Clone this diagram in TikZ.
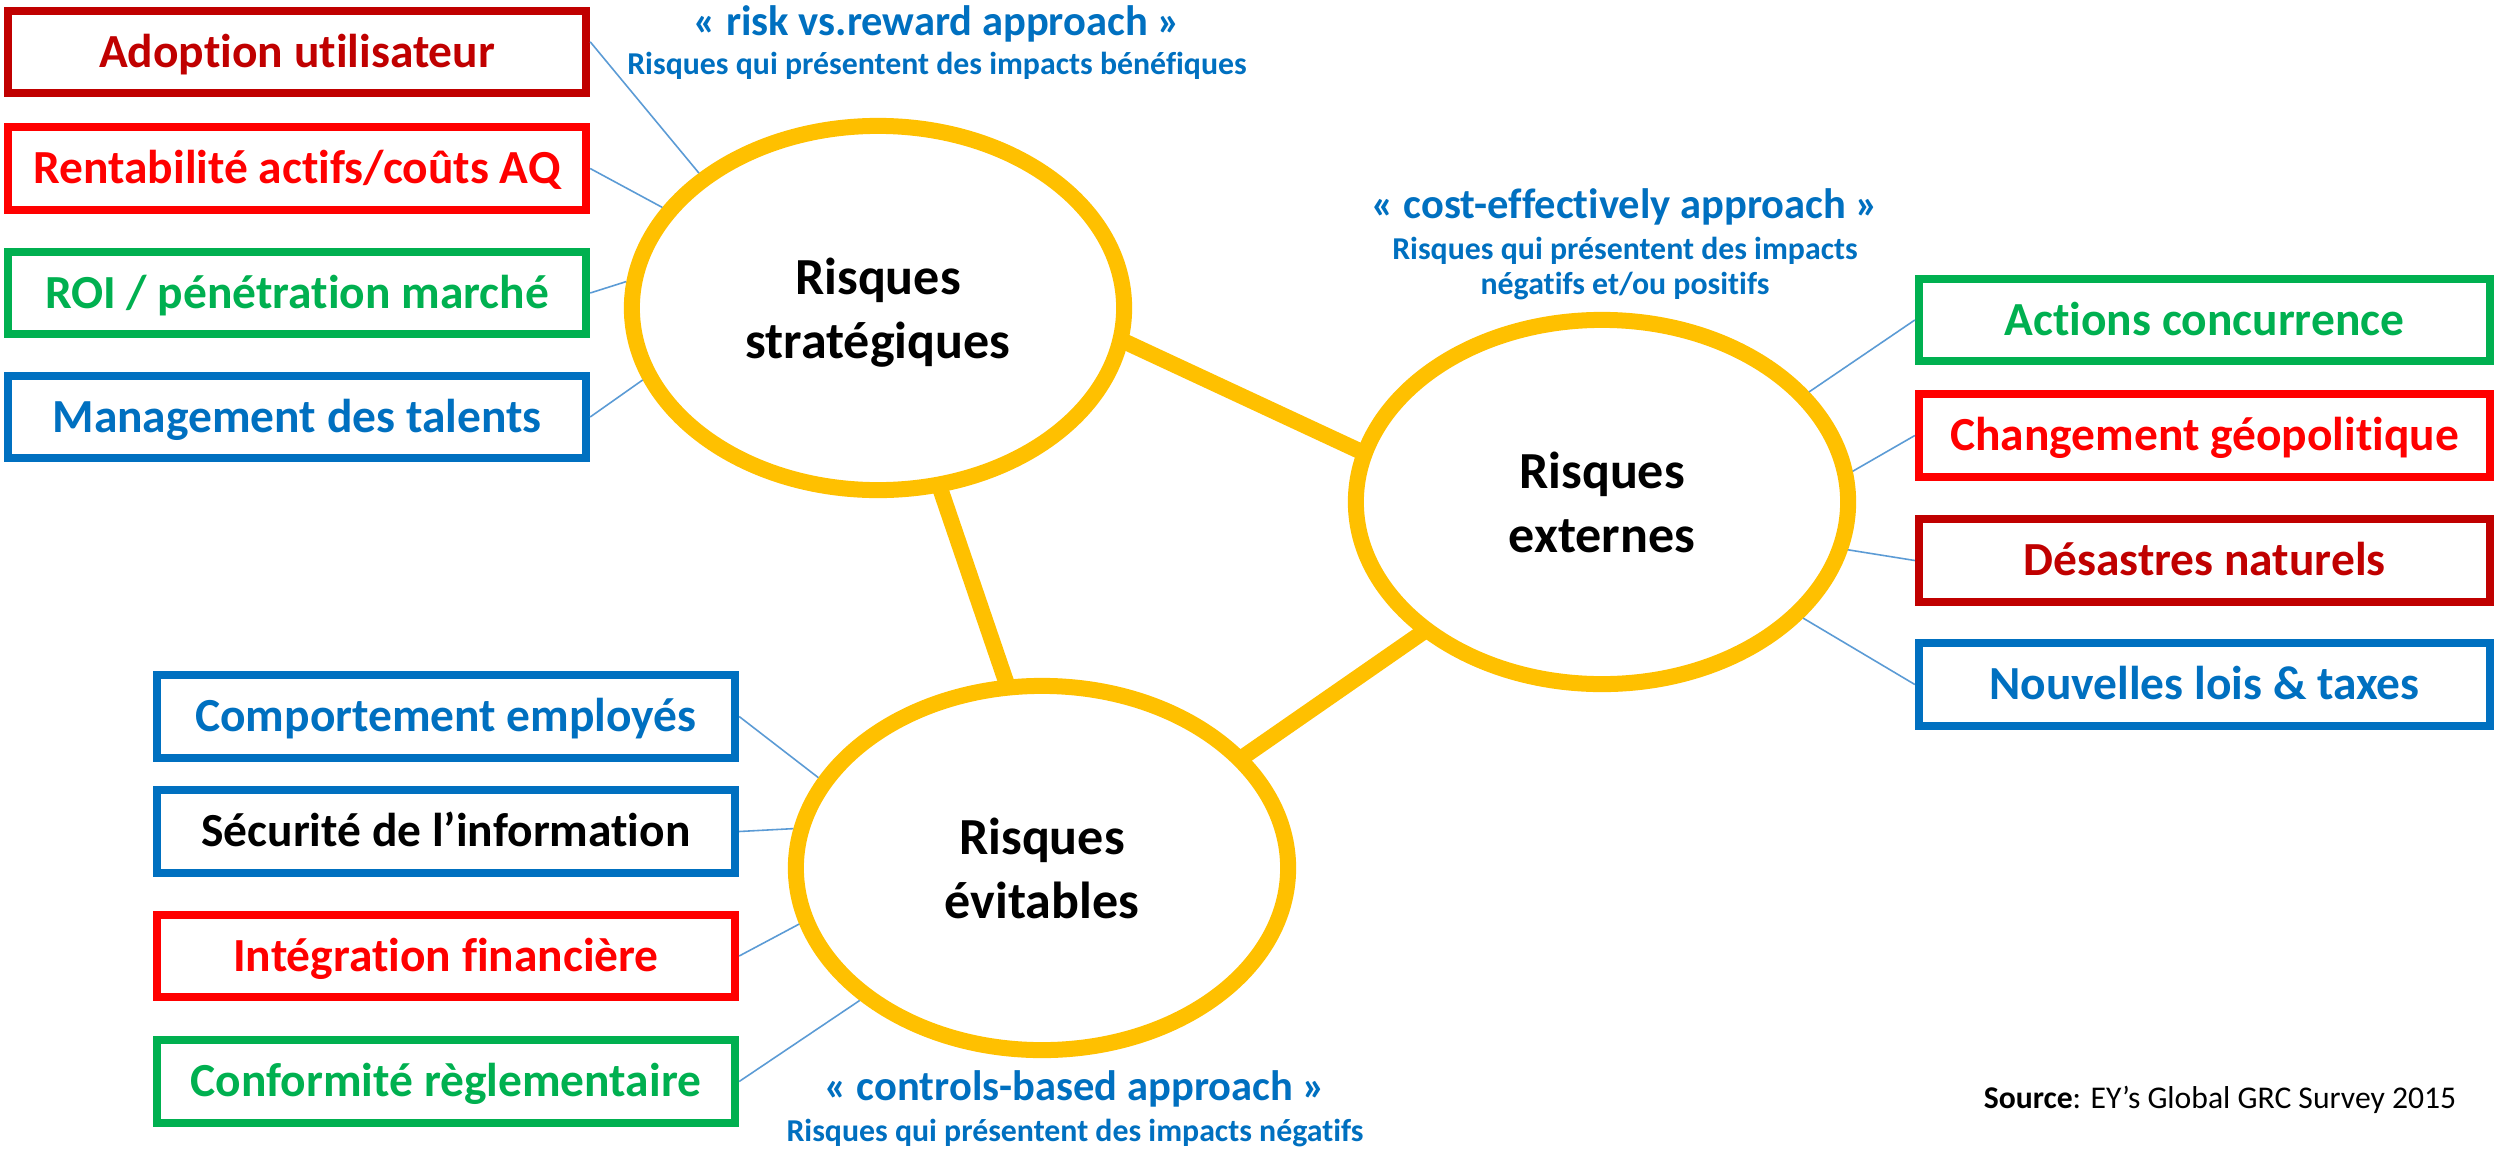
\documentclass[tikz,border=0pt]{standalone}
\usepackage{fontspec}
\setmainfont{Carlito}[Ligatures={NoCommon}]
\usetikzlibrary{shapes.geometric,backgrounds}
\definecolor{dred}{HTML}{C00000}
\definecolor{bred}{HTML}{FF0000}
\definecolor{grn}{HTML}{00B050}
\definecolor{blu}{HTML}{0070C0}
\definecolor{ylw}{HTML}{FFC000}
\definecolor{lblu}{HTML}{5B9BD5}
\begin{document}
\begin{tikzpicture}[x=0.01cm,y=-0.01cm,
 box/.style={draw=#1, line width=0.08cm, minimum width=5.78cm, minimum height=0.82cm, inner sep=0pt,
   font=\bfseries\fontsize{13.5pt}{16pt}\selectfont, text height=0.306cm, text depth=0pt},
 rbox/.style={box=#1, minimum width=5.71cm},
 risk/.style={ellipse, draw=ylw, fill=white, line width=0.16cm, minimum width=4.92cm, minimum height=3.64cm,
   inner sep=0pt, align=center, font=\bfseries\fontsize{14.8pt}{18.2pt}\selectfont, text depth=0pt},
 link/.style={draw=ylw, line width=0.16cm, shorten <=-0.06cm, shorten >=-0.06cm},
 thin/.style={draw=lblu, line width=0.45pt},
 appr/.style={text=blu, font=\bfseries\fontsize{12.1pt}{14pt}\selectfont, anchor=base, inner sep=0pt},
 sub/.style={text=blu, font=\bfseries\fontsize{9.05pt}{10pt}\selectfont, anchor=base, inner sep=0pt},
 src/.style={font=\fontsize{9pt}{10pt}\selectfont, anchor=base, inner sep=0pt},
]
\useasboundingbox (0,0) rectangle (2496,1154);

% ellipses
\node[risk] (strat) at (878,308) {Risques\\stratégiques};
\node[risk] (ext) at (1602,502) {Risques\\externes};
\node[risk] (evit) at (1042,868) {Risques\\évitables};

% left top boxes
\node[box=dred, text=dred] (b1) at (297,52) {Adoption utilisateur};
\node[box=bred, text=bred] (b2) at (297,168.5) {Rentabilité actifs/coûts AQ};
\node[box=grn, text=grn] (b3) at (297,293) {ROI / pénétration marché};
\node[box=blu, text=blu] (b4) at (297,417) {Management des talents};

% right boxes
\node[rbox=grn, text=grn] (r1) at (2204.5,320) {Actions concurrence};
\node[rbox=bred, text=bred] (r2) at (2204.5,435.5) {Changement géopolitique};
\node[rbox=dred, text=dred] (r3) at (2204.5,560.5) {Désastres naturels};
\node[rbox=blu, text=blu] (r4) at (2204.5,684.5) {Nouvelles lois \& taxes};

% lower left boxes
\node[box=blu, text=blu] (l1) at (446,716.5) {Comportement employés};
\node[box=blu, text=black] (l2) at (446,831.5) {Sécurité de l’information};
\node[box=bred, text=bred] (l3) at (446,956) {Intégration financière};
\node[box=grn, text=grn] (l4) at (446,1081.5) {Conformité règlementaire};

% approach texts
\node[appr] (a1) at (937,35) {« risk vs.reward approach »};
\node[sub] (s1) at (937,74) {Risques qui présentent des impacts bénéfiques};
\node[appr] (a2) at (1625,218) {« cost-effectively approach »};
\node[sub] (s2a) at (1625,259) {Risques qui présentent des impacts};
\node[sub] (s2b) at (1625,294) {négatifs et/ou positifs};
\node[appr] (a3) at (1075,1100) {« controls-based approach »};
\node[sub] (s3) at (1075,1141) {Risques qui présentent des impacts négatifs};
\node[src] (src) at (2220,1108) {\textbf{Source}: EY’s Global GRC Survey 2015};

% thin connectors
\draw[thin] (b1.2.5) -- (strat.143);
\draw[thin] (b2.east) -- (strat.155);
\draw[thin] (b3.east) -- (strat.174);
\draw[thin] (b4.east) -- (strat.197.5);
\draw[thin] (r1.west) -- (ext.28.5);
\draw[thin] (r2.west) -- (ext.7.3);
\draw[thin] (r3.west) -- (ext.-11.7);
\draw[thin] (r4.west) -- (ext.-30.2);
\draw[thin] (l1.east) -- (evit.158.5);
\draw[thin] (l2.east) -- (evit.171.9);
\draw[thin] (l3.east) -- (evit.193.3);
\draw[thin] (l4.east) -- (evit.216.5);

% thick links behind the ellipses
\begin{scope}[on background layer]
\fill[white] (0,0) rectangle (2496,1154);
\draw[link] (strat.-8) -- (ext.168);
\draw[link] (strat.-71.4) -- (evit.101.8);
\draw[link] (ext.216.7) -- (evit.29);
\end{scope}
\end{tikzpicture}
\end{document}
